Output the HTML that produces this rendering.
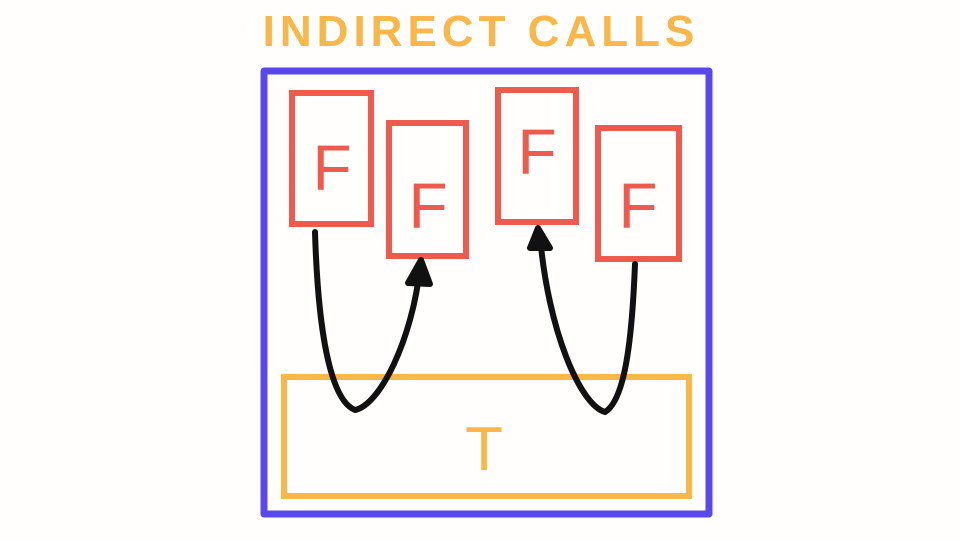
<!DOCTYPE html>
<html><head><style>
html,body{margin:0;padding:0;background:#fffefd;}
svg{display:block}
text{font-family:"Liberation Sans",sans-serif;}
</style></head><body>
<svg width="960" height="540" viewBox="0 0 960 540">
<rect width="960" height="540" fill="#fffefd"/>
<text x="481" y="46" text-anchor="middle" font-size="44" font-weight="bold" fill="#f9b649" letter-spacing="5">INDIRECT CALLS</text>
<rect x="264" y="71" width="445" height="443" fill="none" stroke="#5a48ef" stroke-width="7" stroke-linejoin="round"/>
<g fill="none" stroke="#ee5a4c" stroke-width="6">
<rect x="292" y="93" width="79" height="131"/>
<rect x="389" y="123" width="77" height="133"/>
<rect x="498" y="90" width="78" height="132"/>
<rect x="598" y="128" width="81" height="131"/>
</g>
<g fill="#ee5a4c" font-size="64" text-anchor="middle">
<text x="332" y="190">F</text>
<text x="428" y="228">F</text>
<text x="537" y="174">F</text>
<text x="638" y="228">F</text>
</g>
<rect x="284" y="377" width="405" height="119" fill="none" stroke="#f9b649" stroke-width="6"/>
<text x="484" y="470" text-anchor="middle" font-size="62" fill="#f9b649">T</text>
<g fill="none" stroke="#111" stroke-width="6" stroke-linecap="round" stroke-linejoin="round">
<path d="M315 232 C318 330 330 400 355 410 C380 405 412 340 420 268"/>
<path d="M408 283 L421 260 L430 284 Z" fill="#111"/>
<path d="M635 264 C632 340 625 400 605 412 C580 405 548 330 540 236"/>
<path d="M530 248 L538 228 L550 248 Z" fill="#111"/>
</g>
</svg>
</body></html>
